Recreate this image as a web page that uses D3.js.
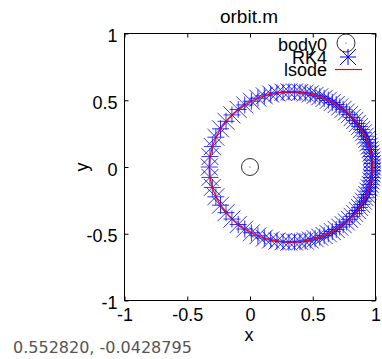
<!DOCTYPE html>
<html>
<head>
<meta charset="utf-8">
<script src="https://cdn.jsdelivr.net/npm/d3@7"></script>
<style>
  body { margin: 0; background: #fff; }
  text { font-family: "Liberation Sans", Arial, sans-serif; }
</style>
</head>
<body>
<div id="plotDiv"></div>
<script>
// values
var titleText = "orbit.m";
var statusText = "0.552820, -0.0428795";
var xTicks = [-1, -0.5, 0, 0.5, 1];
var yTicks = [-1, -0.5, 0, 0.5, 1];
var legendLabels = ["body0", "RK4", "lsode"];
var body0 = [[0, 0]];

var rk4Pts = [
  [-0.325, 0], [-0.319, 0.078], [-0.300, 0.153], [-0.272, 0.223], [-0.235, 0.286],
  [-0.191, 0.342], [-0.144, 0.390], [-0.094, 0.431], [-0.042, 0.465], [0.011, 0.493],
  [0.063, 0.515], [0.114, 0.533], [0.165, 0.546], [0.215, 0.555], [0.263, 0.560],
  [0.310, 0.563], [0.355, 0.562], [0.398, 0.559], [0.440, 0.554], [0.480, 0.547],
  [0.519, 0.537], [0.556, 0.526], [0.591, 0.514], [0.624, 0.500], [0.656, 0.484],
  [0.687, 0.468], [0.715, 0.450], [0.742, 0.432], [0.768, 0.412], [0.792, 0.392],
  [0.814, 0.370], [0.835, 0.349], [0.855, 0.326], [0.873, 0.303], [0.889, 0.280],
  [0.904, 0.256], [0.918, 0.231], [0.930, 0.206], [0.940, 0.181], [0.950, 0.156],
  [0.957, 0.130], [0.964, 0.104], [0.969, 0.078], [0.972, 0.052], [0.974, 0.026],
  [0.975, 0],
  [0.974, -0.026], [0.972, -0.052], [0.969, -0.078], [0.964, -0.104], [0.957, -0.130],
  [0.950, -0.156], [0.940, -0.181], [0.930, -0.206], [0.918, -0.231], [0.904, -0.256],
  [0.889, -0.280], [0.873, -0.303], [0.855, -0.326], [0.835, -0.349], [0.814, -0.370],
  [0.792, -0.392], [0.768, -0.412], [0.742, -0.432], [0.715, -0.450], [0.687, -0.468],
  [0.656, -0.484], [0.624, -0.500], [0.591, -0.514], [0.556, -0.526], [0.519, -0.537],
  [0.480, -0.547], [0.440, -0.554], [0.398, -0.559], [0.355, -0.562], [0.310, -0.563],
  [0.263, -0.560], [0.215, -0.555], [0.165, -0.546], [0.114, -0.533], [0.063, -0.515],
  [0.011, -0.493], [-0.042, -0.465], [-0.094, -0.431], [-0.144, -0.390], [-0.191, -0.342],
  [-0.235, -0.286], [-0.272, -0.223], [-0.300, -0.153], [-0.319, -0.078]
];

var lsodePts = [
  [-0.325, 0], [-0.300, 0.153], [-0.235, 0.286], [-0.144, 0.390], [-0.042, 0.465],
  [0.063, 0.515], [0.165, 0.546], [0.263, 0.560], [0.355, 0.562], [0.440, 0.554],
  [0.519, 0.537], [0.591, 0.514], [0.656, 0.484], [0.715, 0.450], [0.768, 0.412],
  [0.814, 0.370], [0.855, 0.326], [0.889, 0.280], [0.918, 0.231], [0.940, 0.181],
  [0.957, 0.130], [0.969, 0.078], [0.974, 0.026],
  [0.974, -0.026], [0.969, -0.078], [0.957, -0.130], [0.940, -0.181], [0.918, -0.231],
  [0.889, -0.280], [0.855, -0.326], [0.814, -0.370], [0.768, -0.412], [0.715, -0.450],
  [0.656, -0.484], [0.591, -0.514], [0.519, -0.537], [0.440, -0.554], [0.355, -0.562],
  [0.263, -0.560], [0.165, -0.546], [0.063, -0.515], [-0.042, -0.465], [-0.144, -0.390],
  [-0.235, -0.286], [-0.300, -0.153]
];

window.addEventListener("load", makePlot);

function starPath(s) {
    return "M" + (-s) + ",0L" + s + ",0M0," + (-s) + "L0," + s +
           "M" + (-s) + "," + (-s) + "L" + s + "," + s +
           "M" + (-s) + "," + s + "L" + s + "," + (-s);
}

function makePlot() {
    var W = 382, H = 359;
    var box = {left: 124.5, right: 375.5, top: 33.5, bottom: 300.5};

    var svg = d3.select("#plotDiv").append("svg")
        .attr("width", W)
        .attr("height", H);

    var x = d3.scaleLinear().domain([-1, 1]).range([box.left, box.right]);
    var y = d3.scaleLinear().domain([-1, 1]).range([box.bottom, box.top]);
    var fmt = function(d) { return String(d); };

    // axes, ticks pointing inward
    var gB = svg.append("g").attr("transform", "translate(0," + box.bottom + ")")
        .call(d3.axisBottom(x).tickValues(xTicks).tickSize(-4).tickPadding(8).tickFormat(fmt));
    var gT = svg.append("g").attr("transform", "translate(0," + box.top + ")")
        .call(d3.axisTop(x).tickValues(xTicks).tickSize(-4).tickFormat(""));
    var gL = svg.append("g").attr("transform", "translate(" + box.left + ",0)")
        .call(d3.axisLeft(y).tickValues(yTicks).tickSize(-4).tickPadding(7).tickFormat(fmt));
    var gR = svg.append("g").attr("transform", "translate(" + box.right + ",0)")
        .call(d3.axisRight(y).tickValues(yTicks).tickSize(-4).tickFormat(""));

    [gB, gT, gL, gR].forEach(function(g) {
        g.select(".domain").remove();
        g.selectAll(".tick line").attr("stroke", "#000");
        g.selectAll("text")
            .attr("fill", "#000")
            .style("font-size", "18px")
            .style("font-family", "'Liberation Sans', Arial, sans-serif");
    });
    gL.selectAll("text").attr("dy", "0.45em");

    svg.append("rect")
        .attr("x", box.left).attr("y", box.top)
        .attr("width", box.right - box.left).attr("height", box.bottom - box.top)
        .attr("fill", "none").attr("stroke", "#000").attr("stroke-width", 1);

    // labels
    svg.append("text").attr("x", 249).attr("y", 23)
        .attr("text-anchor", "middle").style("font-size", "19px").text(titleText);
    svg.append("text").attr("x", 249).attr("y", 341)
        .attr("text-anchor", "middle").style("font-size", "18px").text("x");
    svg.append("text").attr("transform", "translate(88,167) rotate(-90)")
        .attr("text-anchor", "middle").style("font-size", "18px").text("y");
    svg.append("text").attr("x", 13).attr("y", 353)
        .style("font-family", "'DejaVu Sans', sans-serif")
        .style("font-size", "16px").attr("fill", "#555").text(statusText);

    // body0
    var bodies = svg.append("g").attr("id", "body0");
    bodies.selectAll("circle.ring").data(body0).enter().append("circle")
        .attr("class", "ring")
        .attr("cx", function(d) { return x(d[0]); })
        .attr("cy", function(d) { return y(d[1]); })
        .attr("r", 8.5)
        .attr("fill", "none").attr("stroke", "#333").attr("stroke-width", 1);
    bodies.selectAll("circle.dot").data(body0).enter().append("circle")
        .attr("class", "dot")
        .attr("cx", function(d) { return x(d[0]); })
        .attr("cy", function(d) { return y(d[1]); })
        .attr("r", 0.6).attr("fill", "#333");

    // RK4 stars
    svg.append("g").attr("id", "rk4")
        .selectAll("path").data(rk4Pts).enter().append("path")
        .attr("transform", function(d) { return "translate(" + x(d[0]) + "," + y(d[1]) + ")"; })
        .attr("d", starPath(8.5))
        .attr("fill", "none").attr("stroke", "#0000ff")
        .attr("stroke-width", 1).attr("stroke-opacity", 0.8);

    // lsode line
    var line = d3.line()
        .x(function(d) { return x(d[0]); })
        .y(function(d) { return y(d[1]); })
        .curve(d3.curveCatmullRomClosed);
    svg.append("path").datum(lsodePts)
        .attr("d", line)
        .attr("fill", "none").attr("stroke", "#ff0000").attr("stroke-width", 1.2);

    // legend
    var legend = svg.append("g").attr("id", "legend");
    var legY = [51, 63.5, 76];
    legend.selectAll("text").data(legendLabels).enter().append("text")
        .attr("x", 327).attr("y", function(d, i) { return legY[i]; })
        .attr("text-anchor", "end").style("font-size", "18px")
        .text(function(d) { return d; });
    legend.append("circle").attr("cx", 346).attr("cy", 43).attr("r", 9)
        .attr("fill", "none").attr("stroke", "#333");
    legend.append("circle").attr("cx", 346).attr("cy", 43).attr("r", 0.6).attr("fill", "#333");
    legend.append("path").attr("transform", "translate(348,57)")
        .attr("d", starPath(8))
        .attr("fill", "none").attr("stroke", "#0000ff");
    legend.append("line").attr("x1", 335).attr("x2", 362).attr("y1", 69.5).attr("y2", 69.5)
        .attr("stroke", "#ff0000").attr("stroke-width", 1.2);
}
</script>
</body>
</html>
